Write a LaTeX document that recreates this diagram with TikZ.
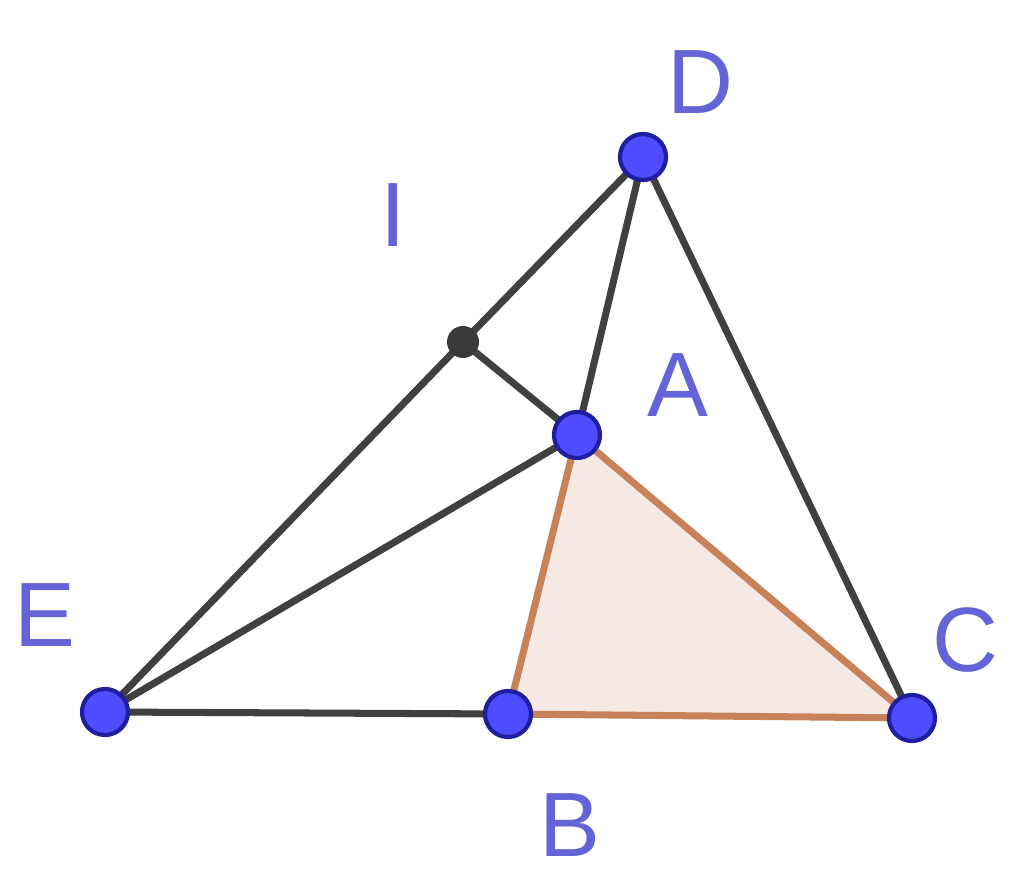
\documentclass[tikz,border=0pt]{standalone}
\usepackage{fontspec}
\usepackage{xcolor}
\setmainfont{Liberation Sans}
\definecolor{ptblue}{HTML}{4D4DFF}
\definecolor{ptedge}{HTML}{1E1E9E}
\definecolor{lblblue}{HTML}{6464D8}
\definecolor{segdark}{HTML}{404040}
\definecolor{segorange}{HTML}{C8825A}
\definecolor{trifill}{HTML}{F6E9E4}
\tikzset{
    point/.style = {circle, fill=ptblue, draw=ptedge, line width=1.2pt, inner sep=0pt, minimum size=0.46cm},
    small-point/.style = {circle, fill=segdark!90!black, inner sep=0pt, minimum size=0.32cm},
    seg/.style = {draw=segdark, line width=2pt},
    tri-seg/.style = {draw=segorange, line width=2pt},
    point-label/.style = {text=lblblue, font=\fontsize{26}{30}\selectfont},
}

\begin{document}
\begin{tikzpicture}
\useasboundingbox (0,0) rectangle (10.24,8.74);
\coordinate (D) at (6.43,7.17);
\coordinate (I) at (4.63,5.32);
\coordinate (A) at (5.77,4.39);
\coordinate (E) at (1.05,1.62);
\coordinate (B) at (5.08,1.60);
\coordinate (C) at (9.12,1.56);

% triangle ABC
\fill[trifill] (A) -- (B) -- (C) -- cycle;

\draw[seg] (D) -- (I) -- (E);
\draw[seg] (I) -- (A);
\draw[seg] (D) -- (A);
\draw[seg] (D) -- (C);
\draw[seg] (E) -- (A);
\draw[seg] (E) -- (B);
\draw[tri-seg] (A) -- (B) -- (C) -- cycle;

\node[small-point] (ptI) at (I) {};
\node[point] (ptD) at (D) {};
\node[point] (ptA) at (A) {};
\node[point] (ptE) at (E) {};
\node[point] (ptB) at (B) {};
\node[point] (ptC) at (C) {};

\node[point-label] (lblD) at (7.00,7.92) {D};
\node[point-label] (lblI) at (3.93,6.59) {I};
\node[point-label] (lblA) at (6.78,4.89) {A};
\node[point-label] (lblE) at (0.45,2.59) {E};
\node[point-label] (lblB) at (5.70,0.49) {B};
\node[point-label] (lblC) at (9.65,2.34) {C};
\end{tikzpicture}
\end{document}
